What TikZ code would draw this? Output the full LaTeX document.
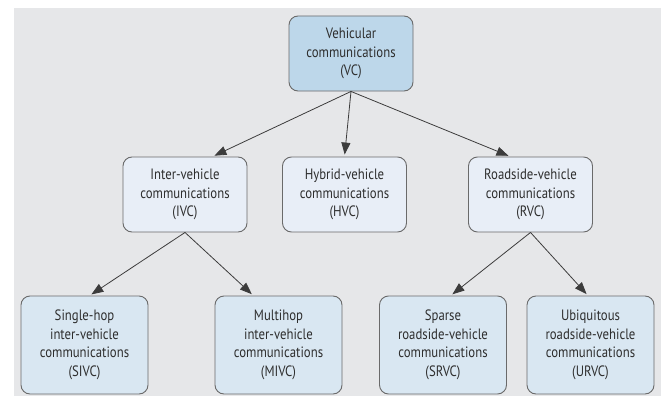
\documentclass[tikz,border=0pt]{standalone}
\usepackage{fontspec}
\setmainfont{PT Sans}[FakeStretch=0.85]
\usepackage{tikz}
\usetikzlibrary{arrows.meta,calc,backgrounds}

\definecolor{bggray}{HTML}{E6E7E9}
\definecolor{topblue}{HTML}{BDD7EA}
\definecolor{midblue}{HTML}{E8EEF7}
\definecolor{leafblue}{HTML}{D9E7F2}
\definecolor{edgegray}{HTML}{6A6A6A}
\definecolor{arrowgray}{HTML}{3C3C3C}
\definecolor{textgray}{HTML}{2E2E2E}

\begin{document}
\begin{tikzpicture}[x=1pt,y=-1pt,
every node/.style={font=\fontsize{15}{18.5}\selectfont,align=center,
text=textgray},
box/.style={draw=edgegray,line width=0.9pt,rounded corners=9pt,
inner sep=0pt},
vcbox/.style={box,fill=topblue,minimum width=124pt,minimum height=75pt},
midbox/.style={box,fill=midblue,minimum width=124pt,minimum height=75pt},
leafbox/.style={box,fill=leafblue,minimum width=127pt,minimum height=98pt},
link/.style={draw=arrowgray,line width=0.8pt,shorten >=2pt,
-{Triangle[length=12pt,width=9pt]}}]
\useasboundingbox (0,0) rectangle (661,396);
\fill[white] (0,0) rectangle (661,396);
\fill[bggray] (14,8) rectangle (661,396);

% top
\node[vcbox] (vc) at (351,53.5) {Vehicular\\communications\\(VC)};
% middle row
\node[midbox] (ivc) at (185,194.5) {Inter-vehicle\\communications\\(IVC)};
\node[midbox] (hvc) at (344.5,194.5) {Hybrid-vehicle\\communications\\(HVC)};
\node[midbox] (rvc) at (530.5,194.5) {Roadside-vehicle\\communications\\(RVC)};
% bottom row
\node[leafbox] (sivc) at (84.5,345) {Single-hop\\inter-vehicle\\communications\\(SIVC)};
\node[leafbox] (mivc) at (278.5,345) {Multihop\\inter-vehicle\\communications\\(MIVC)};
\node[leafbox] (srvc) at (443,345) {Sparse\\roadside-vehicle\\communications\\(SRVC)};
\node[leafbox] (urvc) at (590.5,345) {Ubiquitous\\roadside-vehicle\\communications\\(URVC)};

\draw[link] (vc.south) -- (ivc.54);
\draw[link] (vc.south) -- (hvc.north);
\draw[link] (vc.south) -- (rvc.118);
\draw[link] (ivc.south) -- (sivc.84);
\draw[link] (ivc.south) -- (mivc.117);
\draw[link] (rvc.south) -- (srvc.81);
\draw[link] (rvc.south) -- (urvc.93);
\end{tikzpicture}
\end{document}
